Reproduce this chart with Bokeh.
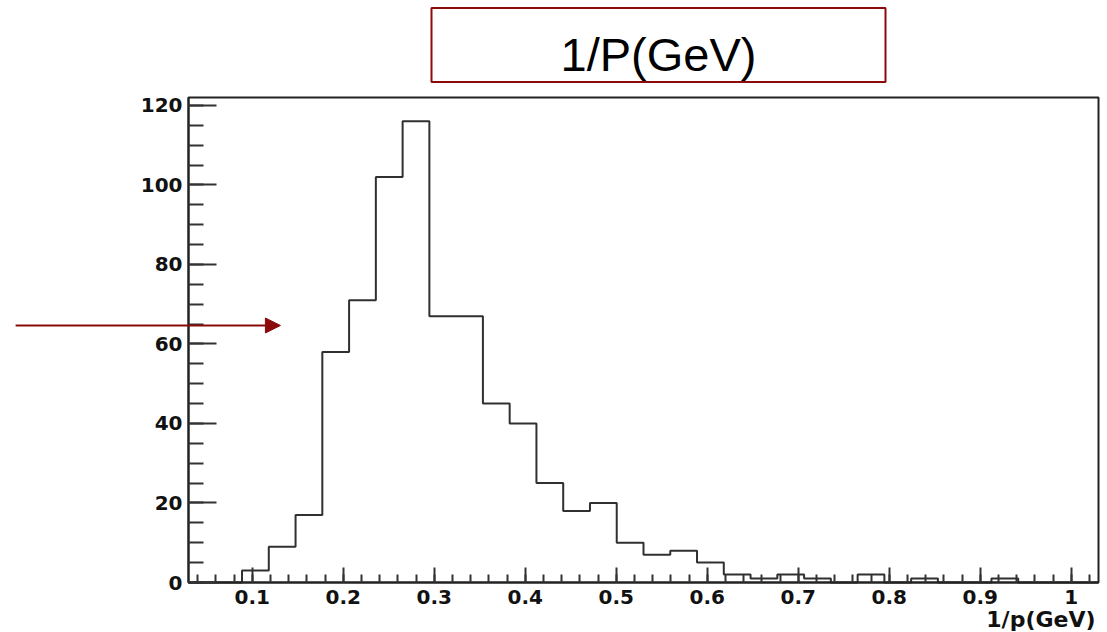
from bokeh.plotting import figure
from bokeh.models import (SingleIntervalTicker, CustomJSTickFormatter,
                          Arrow, NormalHead, Range1d)
from bokeh.embed import file_html
from bokeh.resources import INLINE
from bokeh.core.properties import value

# ---- data ----
counts = [0, 0, 3, 9, 17, 58, 71, 102, 116, 67, 67, 45, 40, 25, 18, 20, 10, 7,
          8, 5, 2, 1, 2, 1, 0, 2, 0, 1, 0, 0, 1, 0, 0, 0]
x_min = 0.03
x_max = 1.03
n_bins = 34
y_max = 122
title_text = "1/P(GeV)"
x_title = "1/p(GeV)"
arrow_level = 64.65
arrow_x = [-0.160, 0.131]

DARK_RED = "#8B0A0A"
TITLE_FONT = "Liberation Sans"
AXIS_FONT = "DejaVu Sans"

# ---- canvas layout (pixels) ----
W, H = 1100, 632
FRAME_L, FRAME_R, FRAME_T, FRAME_B = 188, 1098, 97, 582
px_per_x = (FRAME_R - FRAME_L) / (x_max - x_min)
px_per_y = (FRAME_B - FRAME_T) / y_max

def sx(px):
    return x_min + (px - FRAME_L) / px_per_x

def sy(py):
    return (FRAME_B - py) / px_per_y

# ---- histogram outline ----
bin_width = (x_max - x_min) / n_bins
edges = [x_min + i * bin_width for i in range(n_bins + 1)]
xs = [edges[0]]
ys = [0]
for i, c in enumerate(counts):
    xs += [edges[i], edges[i + 1]]
    ys += [c, c]
xs.append(edges[-1])
ys.append(0)

p = figure(width=W, height=H, x_range=Range1d(sx(0), sx(W)),
           y_range=Range1d(sy(H), sy(0)), min_border=0,
           output_backend="svg", toolbar_location=None)
p.xgrid.visible = False
p.ygrid.visible = False
p.outline_line_color = None
p.background_fill_color = "white"
p.border_fill_color = "white"

# plot frame box
p.quad(left=[x_min], right=[x_max], bottom=[0], top=[y_max], fill_color=None,
       line_color="#222222", line_width=2)

p.line(xs, ys, line_color="#303030", line_width=2)

p.xaxis.ticker = SingleIntervalTicker(interval=0.1, num_minor_ticks=5)
p.yaxis.ticker = SingleIntervalTicker(interval=20, num_minor_ticks=4)
p.xaxis.formatter = CustomJSTickFormatter(code="return String(parseFloat(tick.toFixed(2)));")
p.xaxis.fixed_location = 0
p.xaxis.bounds = (x_min, x_max)
p.yaxis.fixed_location = x_min
p.yaxis.bounds = (0, y_max)

for ax in (p.xaxis[0], p.yaxis[0]):
    ax.axis_line_width = 2
    ax.axis_line_color = "#222222"
    ax.major_tick_out = 0
    ax.minor_tick_out = 0
    ax.major_tick_line_width = 2
    ax.minor_tick_line_width = 2
    ax.major_tick_line_color = "#333333"
    ax.minor_tick_line_color = "#333333"
    ax.major_label_text_font = AXIS_FONT
    ax.major_label_text_font_style = "bold"
    ax.major_label_text_font_size = "20px"
    ax.major_label_text_color = "#111111"

p.xaxis.major_tick_in = 15
p.xaxis.minor_tick_in = 8
p.xaxis.major_label_standoff = 7
p.yaxis.major_tick_in = 28
p.yaxis.minor_tick_in = 15
p.yaxis.major_label_standoff = 6

# red arrow
p.add_layout(Arrow(end=NormalHead(size=15, fill_color=DARK_RED, line_color=DARK_RED),
                   x_start=arrow_x[0], y_start=arrow_level,
                   x_end=arrow_x[1], y_end=arrow_level,
                   line_color=DARK_RED, line_width=2))

# title box
p.quad(left=[sx(431)], right=[sx(885)], top=[sy(7.5)], bottom=[sy(81.5)],
       fill_color="white", line_color=DARK_RED, line_width=2)
p.text(x=[sx(658)], y=[sy(54.3)], text=[title_text], text_font=value(TITLE_FONT),
       text_font_size=value("47px"), text_align="center",
       text_baseline="alphabetic", text_color="black")

# x axis title
p.text(x=[sx(1095)], y=[sy(618.6)], text=[x_title], text_font=value(AXIS_FONT),
       text_font_style="bold", text_font_size=value("22px"), text_align="right",
       text_baseline="alphabetic", text_color="#111111")

open("out.html", "w").write(file_html(p, INLINE))
